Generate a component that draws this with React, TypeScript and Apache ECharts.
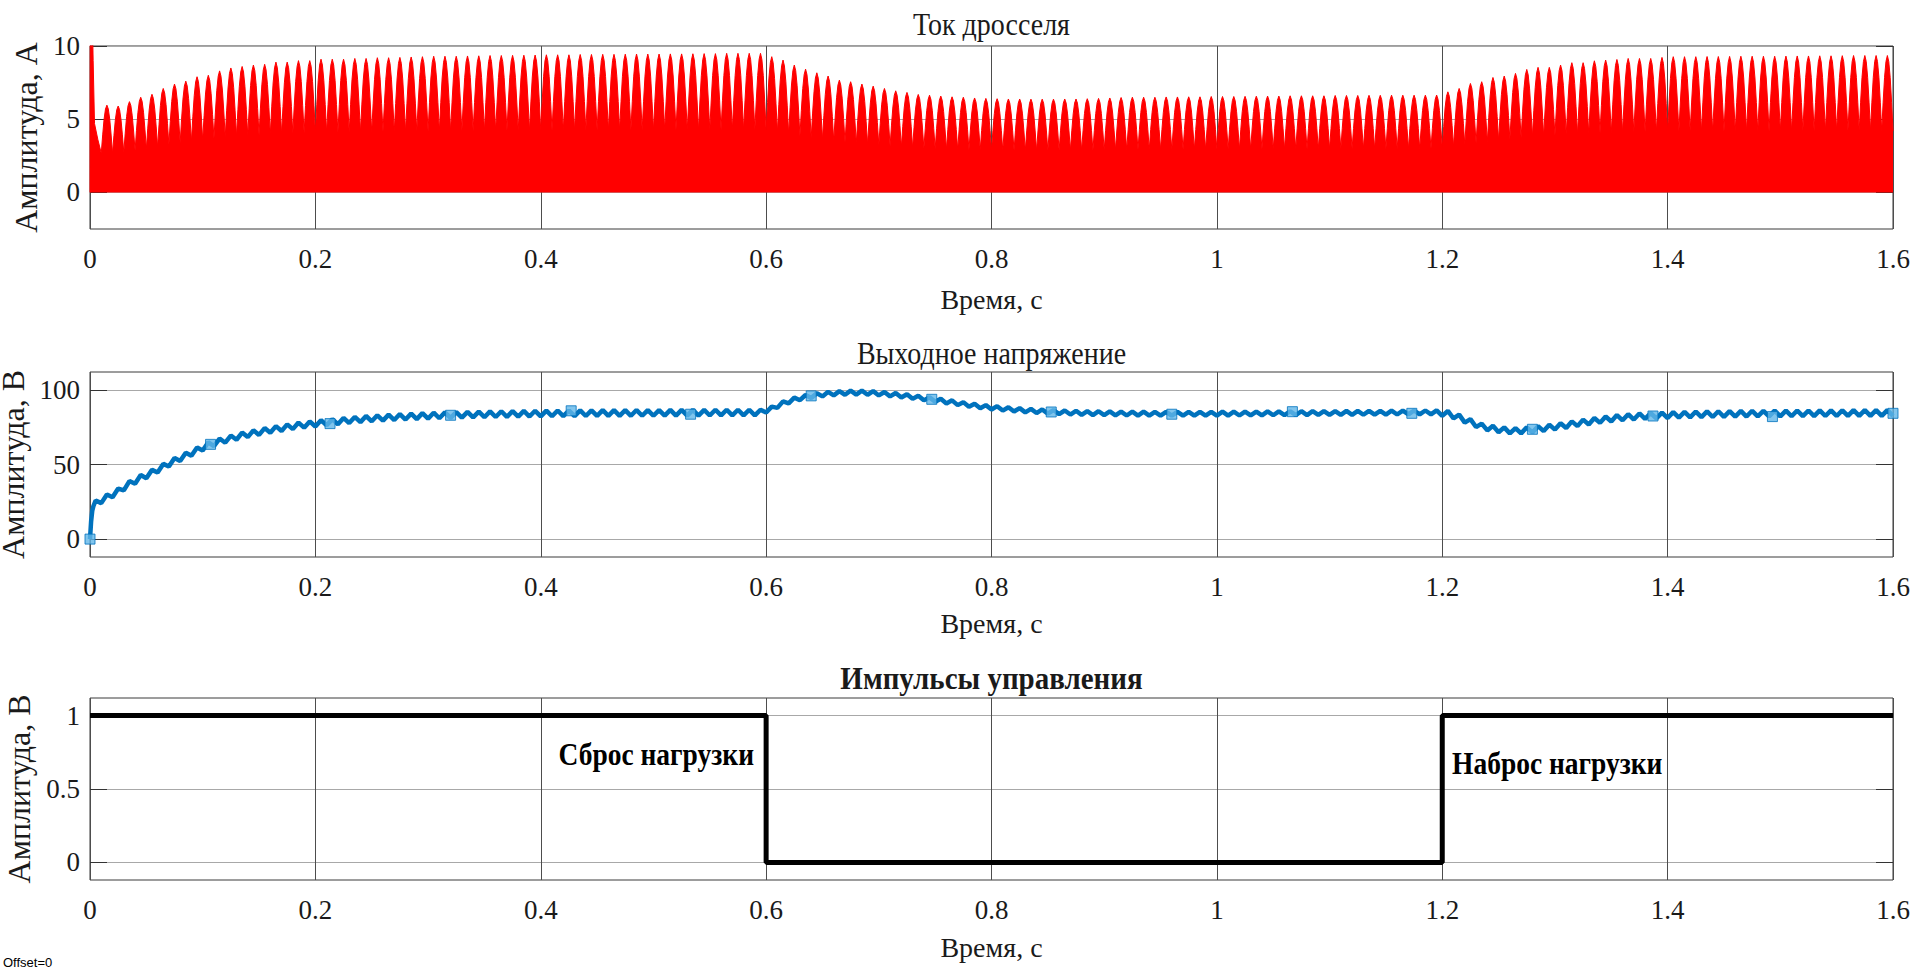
import React, { useEffect, useRef } from "react";
import * as echarts from "echarts";

// ---------- axes / ticks ----------
const X_MIN = 0;
const X_MAX = 1.6;
const X_STEP = 0.2;
const CURRENT_Y_RANGE = [-2.5, 10];
const CURRENT_Y_TICKS = [0, 5, 10];
const VOLTAGE_Y_RANGE = [-12, 112];
const VOLTAGE_Y_TICKS = [0, 50, 100];
const PULSE_Y_RANGE = [-0.12, 1.12];
const PULSE_Y_TICKS = [0, 0.5, 1];

// ---------- inductor current (Ток дросселя) ----------
const LOBE_PERIOD = 0.01; // s, 100 Hz rectified lobes
// start transient (t, value)
const CURRENT_START_T = [0, 0.0002, 0.0024, 0.0028, 0.0034, 0.004, 0.007];
const CURRENT_START_V = [0, 10.6, 10.6, 9.0, 9.0, 4.7, 3.6];
// peak of each lobe k = 1..159 (lobe spans 0.01k .. 0.01(k+1))
const CURRENT_PEAKS = [
  5.96, 5.9, 6.2, 6.5, 6.7, 7.1, 7.4, 7.6, 7.9, 8.0,
  8.3, 8.5, 8.6, 8.7, 8.75, 8.9, 8.9, 9.0, 9.0, 9.1,
  9.1, 9.1, 9.15, 9.15, 9.2, 9.2, 9.22, 9.25, 9.27, 9.3,
  9.3, 9.3, 9.32, 9.33, 9.35, 9.35, 9.36, 9.37, 9.38, 9.4,
  9.4, 9.4, 9.42, 9.42, 9.43, 9.43, 9.44, 9.45, 9.45, 9.45,
  9.46, 9.46, 9.47, 9.48, 9.48, 9.5, 9.5, 9.5, 9.5,
  9.27, 9.04, 8.7, 8.42, 8.17, 7.95, 7.67, 7.56, 7.4, 7.26,
  7.1, 6.94, 6.83, 6.69, 6.64, 6.58, 6.53, 6.5, 6.45, 6.42,
  6.4, 6.38, 6.38, 6.37, 6.37, 6.37, 6.38, 6.38, 6.4, 6.42,
  6.45, 6.48, 6.5, 6.5, 6.5, 6.52, 6.52, 6.53, 6.53, 6.55,
  6.55, 6.55, 6.56, 6.57, 6.58, 6.58, 6.6, 6.6, 6.6, 6.6,
  6.62, 6.62, 6.62, 6.63, 6.63, 6.64, 6.64, 6.64, 6.64, 6.65,
  6.87, 7.1, 7.44, 7.56, 7.85, 7.95, 8.13, 8.4, 8.54, 8.54,
  8.7, 8.86, 8.86, 8.99, 9.04, 9.08, 9.15, 9.15, 9.15, 9.22,
  9.27, 9.27, 9.27, 9.28, 9.28, 9.29, 9.3, 9.3, 9.3, 9.3,
  9.31, 9.32, 9.32, 9.33, 9.33, 9.34, 9.35, 9.35, 9.35, 9.35,
];
// bottom of the white gaps between lobes, as a share of the peaks
const CURRENT_VALLEY_RATIO = 0.45;
// shape of one lobe (share of the lobe height)
const LOBE_PROFILE = [0, 0.38, 0.71, 0.92, 1, 0.92, 0.71, 0.38];

// ---------- output voltage (Выходное напряжение) ----------
const VOLTAGE_START_T = [0, 0.001, 0.002, 0.003];
const VOLTAGE_START_V = [0, 12, 19, 22];
// mean voltage of each 0.01 s ripple period k = 0..159
const VOLTAGE_MEAN = [
  24, 28, 32, 37, 41, 44.5, 48.5, 52.5, 56, 59.5,
  63, 65.5, 67.5, 69.5, 71, 72.5, 73.8, 75, 76.2, 77,
  77.8, 78.5, 79.3, 80, 80.6, 81.1, 81.5, 81.9, 82.2, 82.5,
  82.8, 83, 83.2, 83.4, 83.5, 83.7, 83.8, 83.9, 84, 84.1,
  84.2, 84.3, 84.3, 84.4, 84.4, 84.5, 84.5, 84.5, 84.6, 84.6,
  84.6, 84.7, 84.7, 84.7, 84.7, 84.8, 84.8, 84.8, 84.8, 84.8,
  87.5, 91, 93.5, 95.3, 96.5, 97.4, 97.9, 98.2, 98.2, 97.9,
  97.3, 96.6, 95.8, 94.8, 93.8, 92.8, 91.7, 90.5, 89.4, 88.5,
  87.8, 87.1, 86.5, 86, 85.6, 85.2, 84.9, 84.7, 84.5, 84.4,
  84.3, 84.2, 84.1, 84.1, 84, 84, 84, 84, 84, 84,
  84.1, 84.1, 84.2, 84.2, 84.3, 84.3, 84.4, 84.4, 84.5, 84.5,
  84.5, 84.6, 84.6, 84.7, 84.7, 84.8, 84.8, 84.9, 84.9, 85,
  84, 81.5, 78.5, 75.5, 74, 73, 72.5, 73, 73.8, 74.8,
  75.8, 77, 78.2, 79.3, 80.3, 81.2, 81.8, 82.3, 82.6, 82.9,
  83.2, 83.4, 83.6, 83.7, 83.8, 83.9, 84, 84.1, 84.1, 84.2,
  84.2, 84.3, 84.3, 84.4, 84.4, 84.4, 84.5, 84.5, 84.5, 84.5,
];
// half peak-to-peak ripple for t < 0.6, 0.6..1.2, >= 1.2
const VOLTAGE_RIPPLE = [1.9, 1.3, 1.9];
const RIPPLE_BREAKS = [0.6, 1.2];
// square markers
const MARKER_T = [0, 0.107, 0.213, 0.32, 0.427, 0.533, 0.64, 0.747, 0.853, 0.96, 1.067, 1.173, 1.28, 1.387, 1.493, 1.6];
const MARKER_V = [0, 63.5, 77.4, 83, 86, 83.7, 96, 93.7, 85.2, 83.7, 85.4, 84.3, 73.6, 82.5, 82.1, 84.3];

// ---------- control pulses (Импульсы управления) ----------
const PULSE_T = [0, 0.6, 1.2, 1.6];
const PULSE_V = [1, 0, 1, 1];

// ---------- texts ----------
const TITLES = ["Ток дросселя", "Выходное напряжение", "Импульсы управления"];
const X_NAME = "Время, с";
const Y_NAMES = ["Амплитуда, А", "Амплитуда, В", "Амплитуда, В"];
const NOTE_DROP = "Сброс нагрузки";
const NOTE_ADD = "Наброс нагрузки";
const OFFSET_TEXT = "Offset=0";

const SERIF = '"Liberation Serif", "Times New Roman", serif';
const TEXT_COLOR = "#1a1a1a";

function buildCurrent(): number[][] {
  const pts: number[][] = CURRENT_START_T.map((t, i) => [t, CURRENT_START_V[i]]);
  const n = CURRENT_PEAKS.length;
  const m = LOBE_PROFILE.length;
  for (let i = 0; i < n; i++) {
    const k = i + 1;
    const p = CURRENT_PEAKS[i];
    const prev = i > 0 ? CURRENT_PEAKS[i - 1] : p;
    const next = i < n - 1 ? CURRENT_PEAKS[i + 1] : p;
    const bl = (CURRENT_VALLEY_RATIO * (prev + p)) / 2;
    const br = (CURRENT_VALLEY_RATIO * (p + next)) / 2;
    for (let j = 0; j < m; j++) {
      const t = k * LOBE_PERIOD + (j * LOBE_PERIOD) / m;
      const b = j <= m / 2 ? bl : br;
      pts.push([+t.toFixed(6), b + (p - b) * LOBE_PROFILE[j]]);
    }
  }
  pts.push([X_MAX, CURRENT_VALLEY_RATIO * CURRENT_PEAKS[n - 1]]);
  return pts;
}

function rippleAt(t: number): number {
  let s = 0;
  while (s < RIPPLE_BREAKS.length && t >= RIPPLE_BREAKS[s] - 1e-9) s++;
  return VOLTAGE_RIPPLE[s];
}

function buildVoltage(): number[][] {
  const pts: number[][] = VOLTAGE_START_T.map((t, i) => [t, VOLTAGE_START_V[i]]);
  const n = VOLTAGE_MEAN.length;
  for (let k = 0; k < n; k++) {
    const t0 = k * LOBE_PERIOD;
    const r = rippleAt(t0 + LOBE_PERIOD / 2);
    if (k > 0) {
      const trough = (VOLTAGE_MEAN[k - 1] + VOLTAGE_MEAN[k]) / 2 - rippleAt(t0);
      pts.push([+t0.toFixed(6), trough]);
    }
    pts.push([+(t0 + LOBE_PERIOD / 2).toFixed(6), VOLTAGE_MEAN[k] + r]);
  }
  pts.push([X_MAX, VOLTAGE_MEAN[n - 1] - rippleAt(X_MAX)]);
  return pts;
}

const GRIDS = [
  { left: 90, top: 46, width: 1803, height: 183 },
  { left: 90, top: 372, width: 1803, height: 185 },
  { left: 90, top: 698, width: 1803, height: 182 },
];
const X_NAME_GAPS = [56, 52, 53];

export default function App() {
  const ref = useRef<HTMLDivElement>(null);

  useEffect(() => {
    if (!ref.current) return;
    const chart = echarts.init(ref.current, undefined, { renderer: "svg" });

    const yRanges = [CURRENT_Y_RANGE, VOLTAGE_Y_RANGE, PULSE_Y_RANGE];
    const yTicks = [CURRENT_Y_TICKS, VOLTAGE_Y_TICKS, PULSE_Y_TICKS];

    const xAxes = GRIDS.map((_, i) => ({
      type: "value",
      gridIndex: i,
      min: X_MIN,
      max: X_MAX,
      interval: X_STEP,
      axisLine: { show: false },
      axisTick: { show: false },
      axisLabel: {
        color: TEXT_COLOR,
        fontFamily: SERIF,
        fontSize: 27,
        margin: 16,
        formatter: (v: number) => String(Math.round(v * 10) / 10),
      },
      splitLine: { show: true, lineStyle: { color: "#4d4d4d", width: 1 } },
      name: X_NAME,
      nameLocation: "middle",
      nameGap: X_NAME_GAPS[i],
      nameTextStyle: { color: TEXT_COLOR, fontFamily: SERIF, fontSize: 28 },
    }));

    const leftY = GRIDS.map((_, i) => ({
      type: "value",
      gridIndex: i,
      position: "left",
      min: yRanges[i][0],
      max: yRanges[i][1],
      axisLine: { show: false },
      axisTick: {
        show: true,
        inside: true,
        length: 17,
        lineStyle: { color: "#333333" },
        customValues: yTicks[i],
      },
      axisLabel: {
        color: TEXT_COLOR,
        fontFamily: SERIF,
        fontSize: 27,
        margin: 10,
        customValues: yTicks[i],
      },
      splitLine: { show: true, lineStyle: { color: "#a8a8a8", width: 1 } },
      name: Y_NAMES[i],
      nameLocation: "middle",
      nameGap: 27,
      nameTextStyle: { color: TEXT_COLOR, fontFamily: SERIF, fontSize: 32 },
    }));

    const rightY = GRIDS.map((_, i) => ({
      type: "value",
      gridIndex: i,
      position: "right",
      min: yRanges[i][0],
      max: yRanges[i][1],
      axisLine: { show: false },
      axisTick: {
        show: true,
        inside: true,
        length: 17,
        lineStyle: { color: "#333333" },
        customValues: yTicks[i],
      },
      axisLabel: { show: false, customValues: yTicks[i] },
      splitLine: { show: false },
    }));

    const titleY = [24, 353, 678];
    const graphics: any[] = TITLES.map((t, i) => ({
      type: "text",
      x: 991.5,
      y: titleY[i],
      scaleY: 1.12,
      style: {
        text: t,
        font: `${i === 2 ? "bold 29px" : "28px"} ${SERIF}`,
        fill: TEXT_COLOR,
        textAlign: "center",
        textVerticalAlign: "middle",
      },
    }));
    graphics.push(
      {
        type: "text",
        x: 754,
        y: 754,
        scaleY: 1.12,
        style: {
          text: NOTE_DROP,
          font: `bold 27.5px ${SERIF}`,
          fill: "#000",
          textAlign: "right",
          textVerticalAlign: "middle",
        },
      },
      {
        type: "text",
        x: 1452,
        y: 763,
        scaleY: 1.12,
        style: {
          text: NOTE_ADD,
          font: `bold 27.5px ${SERIF}`,
          fill: "#000",
          textAlign: "left",
          textVerticalAlign: "middle",
        },
      },
      {
        type: "text",
        x: 3,
        y: 962,
        style: {
          text: OFFSET_TEXT,
          font: '13px "Liberation Sans", Arial, sans-serif',
          fill: "#000",
          textAlign: "left",
          textVerticalAlign: "middle",
        },
      }
    );

    chart.setOption({
      animation: false,
      backgroundColor: "#ffffff",
      grid: GRIDS.map((g) => ({
        ...g,
        show: true,
        borderColor: "#3a3a3a",
        borderWidth: 1,
        backgroundColor: "transparent",
        containLabel: false,
        outerBoundsMode: "none",
      })),
      xAxis: xAxes,
      yAxis: [...leftY, ...rightY],
      graphic: graphics,
      series: [
        {
          name: "Ток дросселя",
          type: "line",
          xAxisIndex: 0,
          yAxisIndex: 0,
          data: buildCurrent(),
          symbol: "none",
          showSymbol: false,
          lineStyle: { color: "#ff0000", width: 1 },
          areaStyle: { color: "#ff0000", opacity: 1, origin: 0 },
          clip: true,
          silent: true,
          z: 3,
        },
        {
          name: "Выходное напряжение",
          type: "line",
          xAxisIndex: 1,
          yAxisIndex: 1,
          data: buildVoltage(),
          symbol: "none",
          showSymbol: false,
          lineStyle: { color: "#0072BD", width: 4.5 },
          clip: true,
          silent: true,
          z: 3,
        },
        {
          name: "Маркеры",
          type: "scatter",
          xAxisIndex: 1,
          yAxisIndex: 1,
          data: MARKER_T.map((t, i) => [t, MARKER_V[i]]),
          symbol: "rect",
          symbolSize: 10,
          itemStyle: { color: "#62B6E8", borderColor: "#0072BD", borderWidth: 1 },
          clip: false,
          silent: true,
          z: 4,
        },
        {
          name: "Импульсы управления",
          type: "line",
          xAxisIndex: 2,
          yAxisIndex: 2,
          data: PULSE_T.map((t, i) => [t, PULSE_V[i]]),
          step: "end",
          symbol: "none",
          showSymbol: false,
          lineStyle: { color: "#000000", width: 5 },
          clip: true,
          silent: true,
          z: 3,
        },
      ],
    });

    return () => {
      chart.dispose();
    };
  }, []);

  return (
    <div
      ref={ref}
      style={{
        position: "fixed",
        left: 0,
        top: 0,
        width: "1917px",
        height: "968px",
        background: "#ffffff",
      }}
    />
  );
}
